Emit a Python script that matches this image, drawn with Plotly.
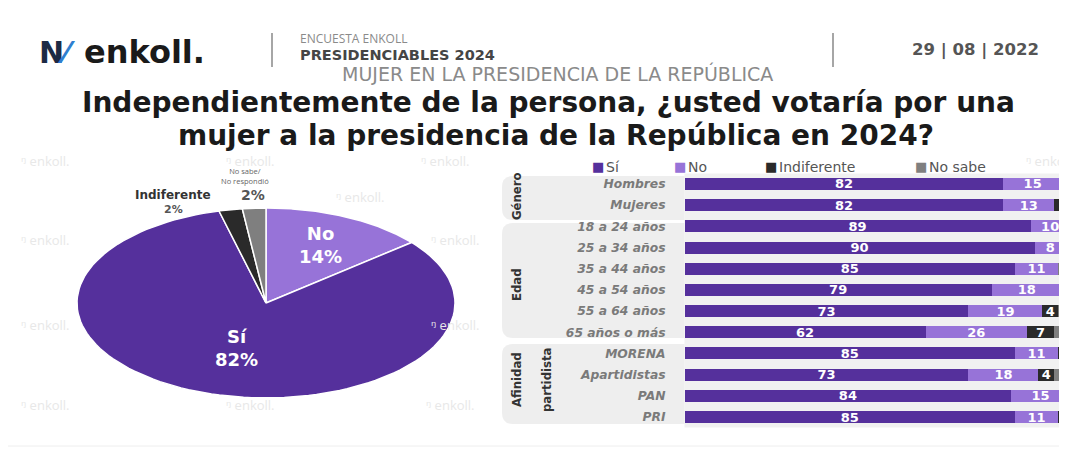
import numpy as np
import plotly.graph_objects as go

W, H = 1067, 462
OFF = 8  # page body margin of the browser

# ---------------- data ----------------
pie_labels = ["No", "Sí", "Indiferente", "No sabe"]
pie_values = [14, 82, 2, 2]

categories = ["Hombres", "Mujeres", "18 a 24 años", "25 a 34 años", "35 a 44 años",
              "45 a 54 años", "55 a 64 años", "65 años o más", "MORENA",
              "Apartidistas", "PAN", "PRI"]
si_vals = [82, 82, 89, 90, 85, 79, 73, 62, 85, 73, 84, 85]
no_vals = [15, 13, 10, 8, 11, 18, 19, 26, 11, 18, 15, 11]
indif_vals = [2, 2, 1, 1, 0, 2, 4, 7, 1, 4, 1, 4]
nosabe_vals = [1, 3, 0, 1, 4, 1, 4, 5, 3, 5, 0, 0]

series_names = ["Sí", "No", "Indiferente", "No sabe"]
group_names = ["Género", "Edad", "Afinidad", "partidista"]

# ---------------- style ----------------
C_SI = "#55309c"
C_NO = "#9773d8"
C_IND = "#2a2a2a"
C_NS = "#7f7f7f"
colors = [C_SI, C_NO, C_IND, C_NS]
pie_colors = [C_NO, C_SI, C_IND, C_NS]
WIDE = "DejaVu Sans, Verdana, sans-serif"
FONT = "Open Sans, Noto Sans, DejaVu Sans, sans-serif"
NARROW = "Liberation Sans Narrow, DejaVu Sans Condensed, sans-serif"


def px(x):
    return (x - OFF) / W


def py(y):
    return 1 - (y - OFF) / H


fig = go.Figure()

# ---------------- stacked bars ----------------
for name, vals, col in zip(series_names, [si_vals, no_vals, indif_vals, nosabe_vals], colors):
    big = name in ("Sí", "No")
    fig.add_trace(go.Bar(
        y=categories, x=vals, orientation="h", name=name,
        marker=dict(color=col, line=dict(width=0)),
        text=[str(v) if (v > 0 and (big or v >= 4)) else "" for v in vals],
        textposition="inside", insidetextanchor="middle", textangle=0,
        textfont=dict(color="white", size=13, family=WIDE, weight="bold"),
        showlegend=False, hoverinfo="skip",
        xaxis="x", yaxis="y",
    ))

# ---------------- elliptical pie (computed from values) ----------------
total = sum(pie_values)
start = 90.0
mid_angles = []
for lab, val, col in zip(pie_labels, pie_values, pie_colors):
    sweep = 360.0 * val / total
    th = np.radians(np.linspace(start, start - sweep, 120))
    xs = np.concatenate([[0], np.cos(th), [0]])
    ys = np.concatenate([[0], np.sin(th), [0]])
    fig.add_trace(go.Scatter(
        x=xs, y=ys, mode="lines", fill="toself", fillcolor=col,
        line=dict(color="white", width=1.5), showlegend=False, hoverinfo="skip",
        xaxis="x2", yaxis="y2",
    ))
    mid_angles.append(start - sweep / 2)
    start -= sweep

bar_x0 = 684.5
px_per_unit = 3.89
x_max = (W - bar_x0) / px_per_unit

row_h = 21.2
top_row = 184 - row_h / 2
bot_row = 417 + row_h / 2

pie_cx, pie_cy, pie_rx, pie_ry = 266, 303, 189, 95

fig.update_layout(
    width=W, height=H,
    margin=dict(l=0, r=0, t=0, b=0),
    paper_bgcolor="white",
    plot_bgcolor="white",
    barmode="stack",
    bargap=0.434,
    uniformtext=dict(mode="show", minsize=12.5),
    xaxis=dict(domain=[px(bar_x0), px(W)], range=[0, x_max], visible=False, fixedrange=True),
    yaxis=dict(domain=[py(bot_row), py(top_row)], autorange="reversed",
               type="category", showgrid=False, zeroline=False, showline=False, ticks="",
               ticklabelstandoff=18,
               tickfont=dict(family=WIDE, size=12.3, color="#7a7a7a", style="italic", weight="bold"),
               fixedrange=True),
    xaxis2=dict(domain=[px(pie_cx - pie_rx), px(pie_cx + pie_rx)], range=[-1, 1],
                visible=False, fixedrange=True),
    yaxis2=dict(domain=[py(pie_cy + pie_ry), py(pie_cy - pie_ry)], range=[-1, 1],
                visible=False, fixedrange=True),
    showlegend=False,
)

ann = []
shapes = []


def text_at(x, y, text, size, color, family=WIDE, xanchor="center", angle=0, **kw):
    d = dict(x=px(x), y=py(y), xref="paper", yref="paper", text=text, showarrow=False,
             xanchor=xanchor, yanchor="middle", textangle=angle,
             font=dict(family=family, size=size, color=color, **kw))
    ann.append(d)


# bar area light background
shapes.append(dict(type="rect", xref="x domain", yref="y domain", x0=0, x1=1, y0=0, y1=1,
                   fillcolor="#f1f1f1", line=dict(width=0), layer="below"))

# watermarks
wm = [(45, 161), (250, 161), (445, 161), (1050, 161),
      (360, 197), (45, 240), (455, 240), (45, 325), (455, 325),
      (45, 405), (250, 405), (450, 405)]
for (x, y) in wm:
    text_at(x, y, "ᵑ enkoll.", 13, "#e8e8e8", family=FONT)

# bottom faint line
shapes.append(dict(type="line", xref="paper", yref="paper", x0=0, x1=1, y0=py(446), y1=py(446),
                   line=dict(color="#eeeeee", width=1)))

# header
text_at(37, 52, "<b><span style='color:#1d2a44'>N</span><span style='color:#2f7fd0'>⁄</span></b>",
        30, "#1d2a44", xanchor="left")
text_at(82, 52, "<b>enkoll.</b>", 32, "#1a1a1a", xanchor="left")
for xs_ in (272, 833):
    shapes.append(dict(type="line", xref="paper", yref="paper", x0=px(xs_), x1=px(xs_),
                       y0=py(33), y1=py(67), line=dict(color="#a6a6a6", width=2)))
text_at(298, 38, "ENCUESTA ENKOLL", 12, "#8a8a8a", family=FONT, xanchor="left")
text_at(298, 54.5, "<b>PRESIDENCIABLES 2024</b>", 14.5, "#454545", xanchor="left")
text_at(975, 50, "<b>29 | 08 | 2022</b>", 16.5, "#555555")
text_at(557, 74, "MUJER EN LA PRESIDENCIA DE LA REPÚBLICA", 19, "#8a8a8a")

# title
text_at(548, 102, "<b>Independientemente de la persona, ¿usted votaría por una</b>", 28, "#1a1a1a")
text_at(556, 135, "<b>mujer a la presidencia de la República en 2024?</b>", 28, "#1a1a1a")

# legend (annotations)
leg_sq = [590, 672, 763, 913]
for name, col, lx in zip(series_names, colors, leg_sq):
    text_at(lx, 167, "■", 13, col, xanchor="left")
    text_at(lx + 14, 167, name, 14, "#555555", xanchor="left")

# group panels (rounded on the left)
panels = [(502, 176, 220), (502, 223, 338), (502, 344, 424)]
for (x0, y0, y1) in panels:
    r = 11
    path = (f"M {px(x0)} {py(y0 + r)} "
            f"Q {px(x0)} {py(y0)} {px(x0 + r)} {py(y0)} "
            f"L {px(bar_x0)} {py(y0)} L {px(bar_x0)} {py(y1)} "
            f"L {px(x0 + r)} {py(y1)} Q {px(x0)} {py(y1)} {px(x0)} {py(y1 - r)} Z")
    shapes.append(dict(type="path", xref="paper", yref="paper", path=path,
                       fillcolor="#eeeeee", line=dict(width=0), layer="below"))

group_pos = [(516, 196), (516, 285), (516, 380), (546, 380)]
for g, (gx, gy) in zip(group_names, group_pos):
    text_at(gx, gy, f"<b>{g}</b>", 13, "#333333", family=NARROW, angle=-90)

# pie labels inside
for lab, val, ang, rr in [(pie_labels[0], pie_values[0], mid_angles[0], 0.68),
                          (pie_labels[1], pie_values[1], mid_angles[1], 0.5)]:
    a = np.radians(ang)
    ann.append(dict(x=rr * np.cos(a), y=rr * np.sin(a), xref="x2", yref="y2",
                    xanchor="center", yanchor="middle",
                    text=f"<b>{lab}<br>{val}%</b>", showarrow=False,
                    font=dict(family=WIDE, size=18, color="white")))

# pie labels outside
text_at(173, 195, "<b>Indiferente</b>", 12, "#333333")
text_at(173, 209, f"<b>{pie_values[2]}%</b>", 11, "#555555")
text_at(245, 176, "No sabe/<br>No respondió", 7.5, "#666666", family=FONT)
text_at(253, 195, f"<b>{pie_values[3]}%</b>", 14, "#555555")

fig.update_layout(annotations=ann, shapes=shapes)

fig.write_html("out.html")
